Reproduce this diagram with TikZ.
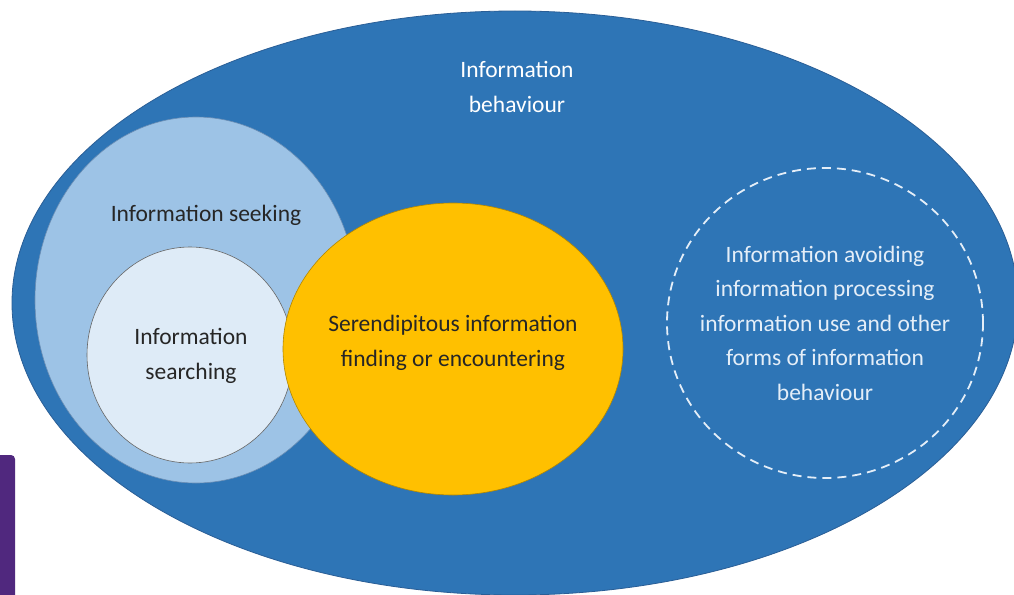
\documentclass[tikz,border=0pt]{standalone}
\usepackage{fontspec}
\setmainfont{Carlito}
\usetikzlibrary{shapes.geometric}
\definecolor{bigblue}{HTML}{2E75B6}
\definecolor{edgeblue}{HTML}{2A5E96}
\definecolor{seekblue}{HTML}{9DC3E6}
\definecolor{searchblue}{HTML}{DEEBF7}
\definecolor{serengold}{HTML}{FFC000}
\definecolor{darktext}{HTML}{262626}
\definecolor{dashwhite}{HTML}{E4EEF8}
\definecolor{purplebar}{HTML}{50287E}
\tikzset{
  blob/.style={ellipse, inner sep=0pt},
  lbl/.style={font=\fontsize{23.5}{34.5}\selectfont, align=center, inner sep=0pt},
}
\begin{document}
\begin{tikzpicture}[x=1pt,y=-1pt]
\useasboundingbox (0,0) rectangle (1014,594);
\clip (0,0) rectangle (1014,594);
\fill[white] (0,0) rectangle (1014,594);
% purple bar artifact
\fill[purplebar, rounded corners=4pt] (-6,455) rectangle (15,600);
% outer ellipse
\node[blob, fill=bigblue, draw=edgeblue, line width=0.8pt, minimum width=1006pt, minimum height=584pt] (behav) at (515,303) {};
% information seeking
\node[blob, fill=seekblue, draw=edgeblue!70, line width=0.6pt, minimum width=322pt, minimum height=366pt] (seek) at (196,300) {};
% information searching
\node[blob, fill=searchblue, draw=gray!80!black, line width=0.6pt, minimum width=206pt, minimum height=216pt] (search) at (190,355) {};
% serendipitous
\node[blob, fill=serengold, draw=serengold!70!black, line width=0.6pt, minimum width=340pt, minimum height=292pt] (seren) at (453,349) {};
% dashed
\node[blob, draw=dashwhite, dashed, dash pattern=on 9pt off 6pt, line width=1.8pt, minimum width=316pt, minimum height=310pt] (other) at (825,323) {};
% labels
\node[lbl, text=white] (tbehav) at (517,87) {Information\\behaviour};
\node[lbl, text=darktext] (tseek) at (206,215) {Information seeking};
\node[lbl, text=darktext] (tsearch) at (191,356) {Information\\searching};
\node[lbl, text=darktext] (tseren) at (453,343) {Serendipitous information\\finding or encountering};
\node[lbl, text=dashwhite] (tother) at (825,323) {Information avoiding\\information processing\\information use and other\\forms of information\\behaviour};
\end{tikzpicture}
\end{document}
